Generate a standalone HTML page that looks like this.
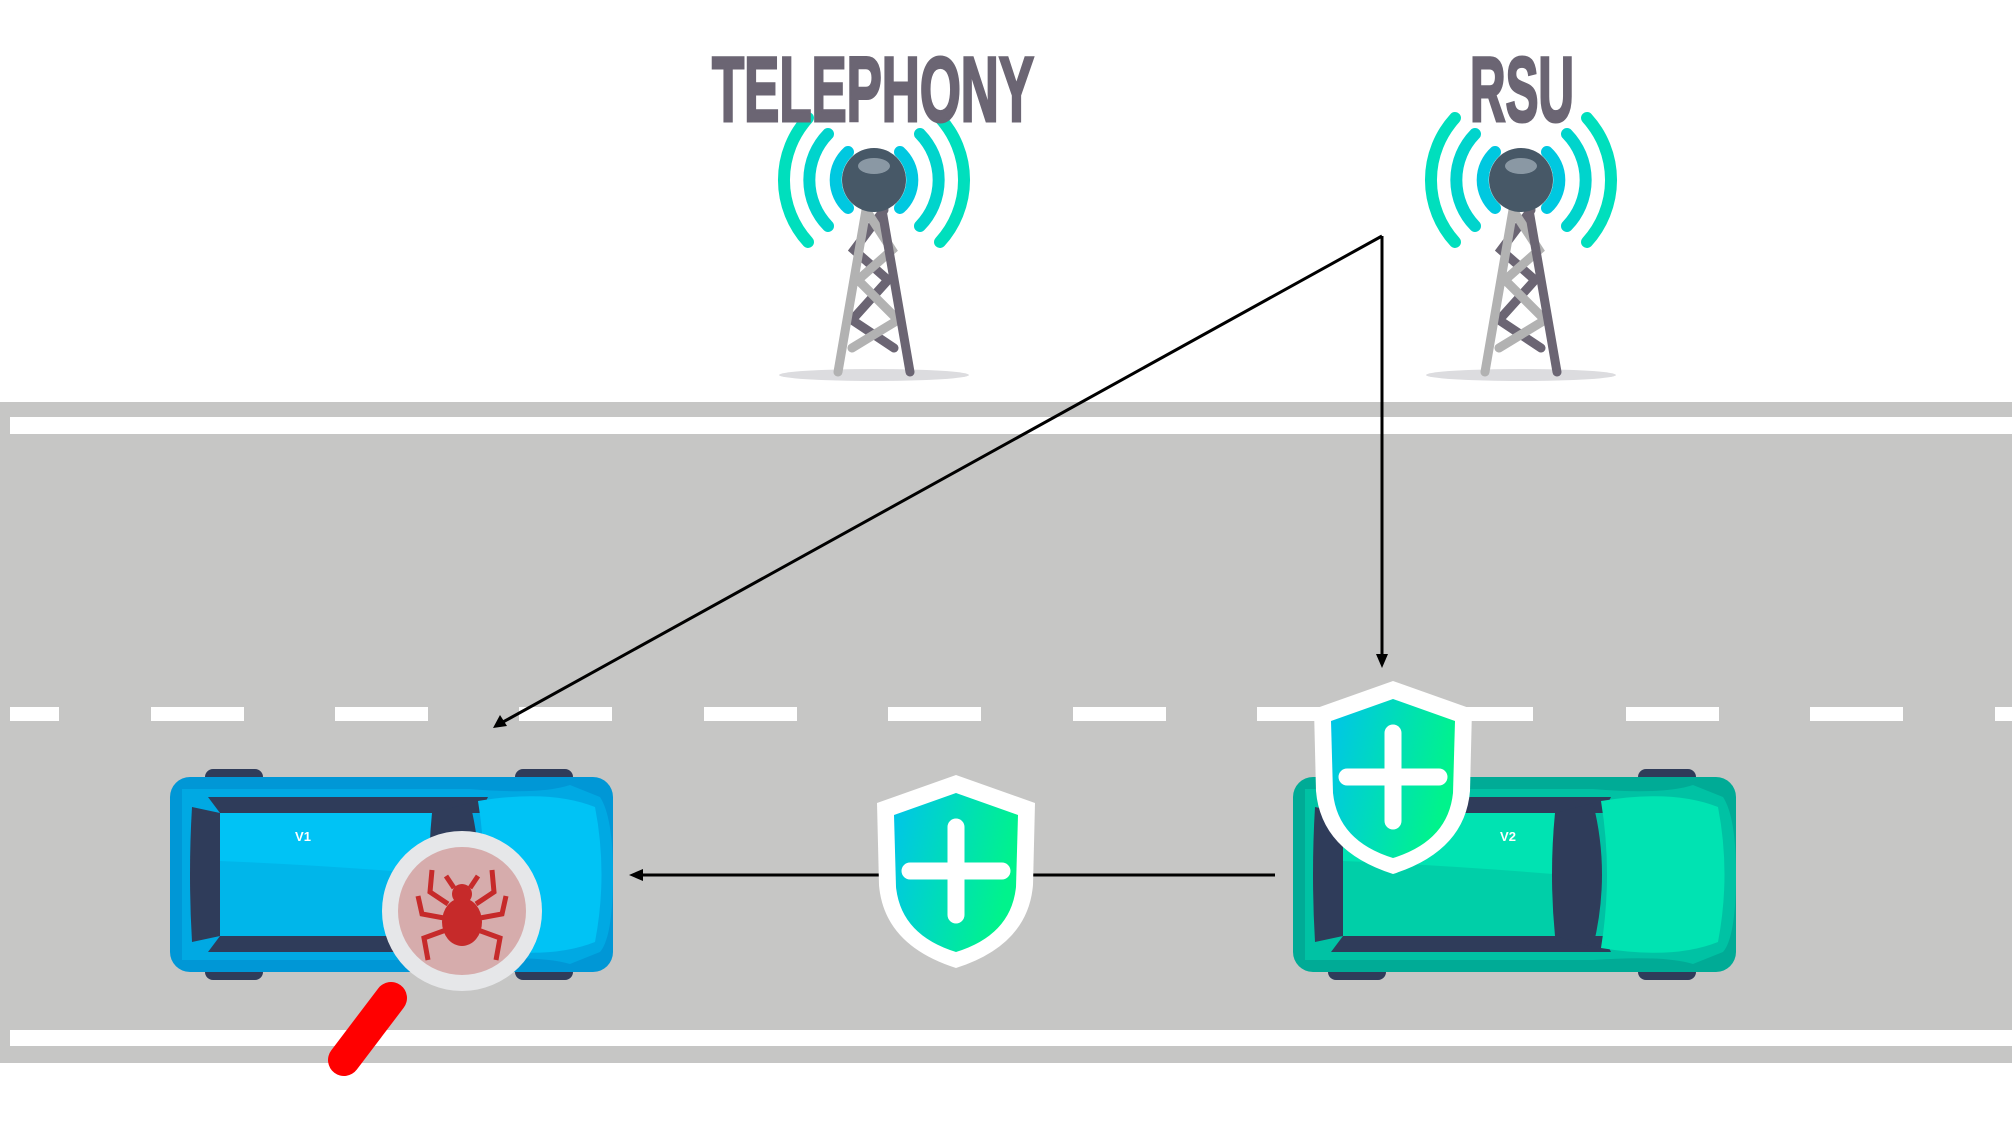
<!DOCTYPE html>
<html><head><meta charset="utf-8"><style>html,body{margin:0;padding:0;background:#fff}svg{display:block}</style></head>
<body>
<svg width="2012" height="1132" viewBox="0 0 2012 1132" xmlns="http://www.w3.org/2000/svg">
<defs>
<linearGradient id="sg" x1="0" y1="0" x2="1" y2="0.3"><stop offset="0" stop-color="#00c4ea"/><stop offset="1" stop-color="#00f38c"/></linearGradient>
<g id="tower">
  <ellipse cx="0" cy="195" rx="95" ry="6" fill="#dcdcdf"/>
  <g fill="none" stroke-linecap="round" stroke-width="12">
    <path d="M-26,-28 A38,38 0 0 0 -26,28" stroke="#00c8e0"/>
    <path d="M26,-28 A38,38 0 0 1 26,28" stroke="#00c8e0"/>
    <path d="M-46,-46 A66,66 0 0 0 -46,46" stroke="#00d4cc"/>
    <path d="M46,-46 A66,66 0 0 1 46,46" stroke="#00d4cc"/>
    <path d="M-66,-62 A92,92 0 0 0 -66,62" stroke="#00dfbd"/>
    <path d="M66,-62 A92,92 0 0 1 66,62" stroke="#00dfbd"/>
  </g>
  <g stroke-width="9" stroke-linecap="round" fill="none">
    <path d="M10,30 L-20,70 L14,100 L-22,140 L20,168" stroke="#6b6573"/>
    <path d="M-8,30 L18,70 L-16,100 L24,140 L-22,168" stroke="#b2b2b2"/>
    <line x1="8" y1="30" x2="36" y2="192" stroke="#6b6573"/>
    <line x1="-8" y1="30" x2="-36" y2="192" stroke="#b2b2b2"/>
  </g>
  <circle cx="0" cy="0" r="32" fill="#475867"/>
  <ellipse cx="0" cy="-14" rx="16" ry="8" fill="#8a98a4"/>
</g>
<g id="shield">
  <path d="M0,0 L79,28 L77,110 Q72,170 0,193 Q-72,170 -77,110 L-79,28 Z" fill="#fff"/>
  <path d="M0,18 L62,40 L60,112 Q55,160 0,177 Q-55,160 -60,112 L-62,40 Z" fill="url(#sg)"/>
  <g stroke="#fff" stroke-width="17" stroke-linecap="round">
    <line x1="0" y1="52" x2="0" y2="140"/><line x1="-46" y1="96" x2="46" y2="96"/>
  </g>
</g>
</defs>

<rect x="0" y="402" width="2012" height="661" fill="#c6c6c5"/>
<rect x="10" y="417" width="2002" height="17" fill="#fff"/>
<rect x="10" y="1030" width="2002" height="16" fill="#fff"/>
<g fill="#fff">
  <rect x="10" y="707" width="49" height="14"/>
  <rect x="151" y="707" width="93" height="14"/>
  <rect x="335" y="707" width="93" height="14"/>
  <rect x="519" y="707" width="93" height="14"/>
  <rect x="704" y="707" width="93" height="14"/>
  <rect x="888" y="707" width="93" height="14"/>
  <rect x="1073" y="707" width="93" height="14"/>
  <rect x="1257" y="707" width="276" height="14"/>
  <rect x="1626" y="707" width="93" height="14"/>
  <rect x="1810" y="707" width="93" height="14"/>
  <rect x="1995" y="707" width="17" height="14"/>
</g>

<use href="#tower" x="874" y="180"/>
<use href="#tower" x="1521" y="180"/>
<text x="712" y="121" font-family="Liberation Sans Narrow, Liberation Sans, sans-serif" font-weight="bold" font-size="92" fill="#6b6573" stroke="#6b6573" stroke-width="3" textLength="322" lengthAdjust="spacingAndGlyphs">TELEPHONY</text>
<text x="1470" y="121" font-family="Liberation Sans Narrow, Liberation Sans, sans-serif" font-weight="bold" font-size="92" fill="#6b6573" stroke="#6b6573" stroke-width="3" textLength="104" lengthAdjust="spacingAndGlyphs">RSU</text>

<g stroke="#000" stroke-width="3" fill="none">
  <polyline points="1382,236 1382,656"/>
  <line x1="1382" y1="236" x2="503" y2="722"/>
  <line x1="1275" y1="875" x2="640" y2="875"/>
</g>
<polygon points="1382,668 1376,654 1388,654" fill="#000"/>
<polygon points="493,728 500,715 507,726" fill="#000"/>
<polygon points="629,875 643,869 643,881" fill="#000"/>

<g transform="translate(170,777)">
  <rect x="35" y="-8" width="58" height="20" rx="8" fill="#2f3c5a"/>
  <rect x="345" y="-8" width="58" height="20" rx="8" fill="#2f3c5a"/>
  <rect x="35" y="183" width="58" height="20" rx="8" fill="#2f3c5a"/>
  <rect x="345" y="183" width="58" height="20" rx="8" fill="#2f3c5a"/>
  <rect x="0" y="0" width="443" height="195" rx="20" fill="#0097d6"/>
  <path d="M12,12 L300,12 Q370,18 400,8 L430,20 Q443,40 443,97 Q443,160 430,175 L400,187 Q370,178 300,183 L12,183 Z" fill="#00a9e3"/>
  <path d="M38,20 L318,20 L310,36 L50,36 Z M38,175 L318,175 L310,159 L50,159 Z" fill="#2f3c5a"/>
  <path d="M22,30 L50,36 L50,159 L22,165 Q18,97 22,30 Z" fill="#2f3c5a"/>
  <path d="M50,36 L262,36 Q256,97 262,159 L50,159 Z" fill="#00b6ea"/>
  <path d="M50,36 L262,36 L260,97 Q150,88 50,84 Z" fill="#00c3f5"/>
  <path d="M262,36 L300,26 Q318,97 300,170 L262,159 Q256,97 262,36 Z" fill="#2f3c5a"/>
  <path d="M308,24 Q380,12 425,30 Q438,97 425,165 Q380,183 308,171 Q320,97 308,24 Z" fill="#00c3f5"/>
  <text x="133" y="64" font-family="Liberation Sans, sans-serif" font-weight="bold" font-size="13" fill="#fff" text-anchor="middle">V1</text>
</g>

<line x1="391" y1="998" x2="344" y2="1060" stroke="#ff0000" stroke-width="32" stroke-linecap="round"/>
<circle cx="462" cy="911" r="80" fill="#e6e7e9"/>
<circle cx="462" cy="911" r="64" fill="#d6acac"/>
<g fill="#c62a2a" transform="translate(462,912)">
  <ellipse cx="0" cy="10" rx="20" ry="24"/>
  <circle cx="0" cy="-18" r="10"/>
  <g stroke="#c62a2a" stroke-width="5" fill="none">
    <path d="M-14,-8 L-32,-20 L-30,-42"/><path d="M14,-8 L32,-20 L30,-42"/>
    <path d="M-18,6 L-40,2 L-44,-16"/><path d="M18,6 L40,2 L44,-16"/>
    <path d="M-16,18 L-38,26 L-34,48"/><path d="M16,18 L38,26 L34,48"/>
    <path d="M-8,-24 L-16,-36"/><path d="M8,-24 L16,-36"/>
  </g>
</g>

<g transform="translate(1293,777)">
  <rect x="35" y="-8" width="58" height="20" rx="8" fill="#2f3c5a"/>
  <rect x="345" y="-8" width="58" height="20" rx="8" fill="#2f3c5a"/>
  <rect x="35" y="183" width="58" height="20" rx="8" fill="#2f3c5a"/>
  <rect x="345" y="183" width="58" height="20" rx="8" fill="#2f3c5a"/>
  <rect x="0" y="0" width="443" height="195" rx="20" fill="#00ab96"/>
  <path d="M12,12 L300,12 Q370,18 400,8 L430,20 Q443,40 443,97 Q443,160 430,175 L400,187 Q370,178 300,183 L12,183 Z" fill="#00c2a4"/>
  <path d="M38,20 L318,20 L310,36 L50,36 Z M38,175 L318,175 L310,159 L50,159 Z" fill="#2f3c5a"/>
  <path d="M22,30 L50,36 L50,159 L22,165 Q18,97 22,30 Z" fill="#2f3c5a"/>
  <path d="M50,36 L262,36 Q256,97 262,159 L50,159 Z" fill="#00cfa8"/>
  <path d="M50,36 L262,36 L260,97 Q150,88 50,84 Z" fill="#00e3b2"/>
  <path d="M262,36 L300,26 Q318,97 300,170 L262,159 Q256,97 262,36 Z" fill="#2f3c5a"/>
  <path d="M308,24 Q380,12 425,30 Q438,97 425,165 Q380,183 308,171 Q320,97 308,24 Z" fill="#00e3b2"/>
  <text x="215" y="64" font-family="Liberation Sans, sans-serif" font-weight="bold" font-size="13" fill="#fff" text-anchor="middle">V2</text>
</g>

<use href="#shield" x="956" y="775"/>
<use href="#shield" x="1393" y="681"/>
</svg>
</body></html>
